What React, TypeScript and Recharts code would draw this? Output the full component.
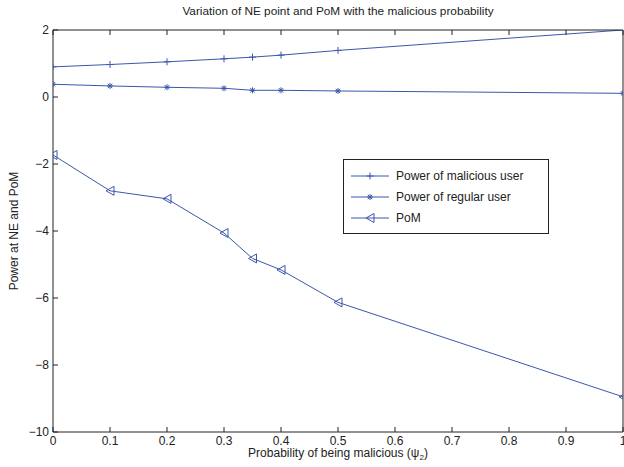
import React from 'react';
import { LineChart, Line, XAxis, YAxis } from 'recharts';

const probability = [0, 0.1, 0.2, 0.3, 0.35, 0.4, 0.5, 1];
const maliciousPower = [0.9, 0.97, 1.05, 1.14, 1.19, 1.25, 1.39, 2.0];
const regularPower = [0.38, 0.33, 0.29, 0.26, 0.2, 0.2, 0.18, 0.11];
const pomValues = [-1.73, -2.8, -3.04, -4.06, -4.82, -5.16, -6.13, -8.95];

const xTicks = [0, 0.1, 0.2, 0.3, 0.4, 0.5, 0.6, 0.7, 0.8, 0.9, 1];
const yTicks = [-10, -8, -6, -4, -2, 0, 2];

const seriesNames = ['Power of malicious user', 'Power of regular user', 'PoM'];
const titleText = 'Variation of NE point and PoM with the malicious probability';
const xLabelText = 'Probability of being malicious (\u03C8';
const yLabelText = 'Power at NE and PoM';

const data = probability.map((p, i) => ({
  p,
  mal: maliciousPower[i],
  reg: regularPower[i],
  pom: pomValues[i],
}));

const BLUE = '#3b57ad';
const FONT = 'Liberation Sans, Arial, Helvetica, sans-serif';
const FS = 12;

const PlusDot = (props: any) => {
  const { cx, cy, index } = props;
  if (cx == null || cy == null) return null;
  const s = 3.5;
  return (
    <g key={'pl' + index}>
      <line x1={cx - s} y1={cy} x2={cx + s} y2={cy} stroke={BLUE} strokeWidth={1} />
      <line x1={cx} y1={cy - s} x2={cx} y2={cy + s} stroke={BLUE} strokeWidth={1} />
    </g>
  );
};

const StarDot = (props: any) => {
  const { cx, cy, index } = props;
  if (cx == null || cy == null) return null;
  const s = 3;
  const d = 2.2;
  return (
    <g key={'st' + index}>
      <line x1={cx - s} y1={cy} x2={cx + s} y2={cy} stroke={BLUE} strokeWidth={1} />
      <line x1={cx} y1={cy - s} x2={cx} y2={cy + s} stroke={BLUE} strokeWidth={1} />
      <line x1={cx - d} y1={cy - d} x2={cx + d} y2={cy + d} stroke={BLUE} strokeWidth={1} />
      <line x1={cx - d} y1={cy + d} x2={cx + d} y2={cy - d} stroke={BLUE} strokeWidth={1} />
    </g>
  );
};

const TriDot = (props: any) => {
  const { cx, cy, index } = props;
  if (cx == null || cy == null) return null;
  const w = 4;
  const h = 4.5;
  return (
    <polygon
      key={'tr' + index}
      points={`${cx - w},${cy} ${cx + w},${cy - h} ${cx + w},${cy + h}`}
      fill="none"
      stroke={BLUE}
      strokeWidth={1}
    />
  );
};

const markerFns = [PlusDot, StarDot, TriDot];

const LegendBox = () => (
  <div
    style={{
      position: 'absolute',
      left: 343,
      top: 159,
      border: '1px solid #222',
      background: '#fff',
      width: 206,
      height: 75,
      boxSizing: 'border-box',
      fontFamily: FONT,
      fontSize: FS,
      color: '#222',
      paddingTop: 5,
    }}
  >
    {seriesNames.map((name, i) => {
      const M = markerFns[i];
      return (
        <div key={name} style={{ display: 'flex', alignItems: 'center', height: 21 }}>
          <svg width={46} height={12} style={{ marginLeft: 5 }}>
            <line x1={2} y1={6} x2={40} y2={6} stroke={BLUE} strokeWidth={1} />
            <M cx={21} cy={6} index={i} />
          </svg>
          <span style={{ marginLeft: 1 }}>{name}</span>
        </div>
      );
    })}
  </div>
);

const fmtY = (v: number) => String(v).replace('-', '\u2212');
const fmtX = (v: number) => String(v);

export default function App() {
  return (
    <div style={{ position: 'absolute', left: 0, top: 0, width: 624, height: 467, background: '#fff', overflow: 'hidden' }}>
      <LineChart
        width={624}
        height={467}
        data={data}
        margin={{ top: 29, right: 0, bottom: 0, left: 0 }}
      >
        <XAxis
          xAxisId="b"
          dataKey="p"
          type="number"
          domain={[0, 1]}
          ticks={xTicks}
          tickFormatter={fmtX}
          orientation="bottom"
          height={35}
          tickSize={-5}
          tickMargin={9}
          axisLine={{ stroke: '#222' }}
          tickLine={{ stroke: '#222' }}
          tick={{ fill: '#222', fontSize: FS, fontFamily: FONT }}
          interval={0}
          allowDataOverflow
        />
        <XAxis
          xAxisId="t"
          dataKey="p"
          type="number"
          domain={[0, 1]}
          ticks={xTicks}
          tickFormatter={() => ''}
          orientation="top"
          height={1}
          tickSize={-5}
          axisLine={{ stroke: '#222' }}
          tickLine={{ stroke: '#222' }}
          interval={0}
        />
        <YAxis
          yAxisId="l"
          type="number"
          domain={[-10, 2]}
          ticks={yTicks}
          tickFormatter={fmtY}
          orientation="left"
          width={53}
          tickSize={-5}
          tickMargin={9}
          axisLine={{ stroke: '#222' }}
          tickLine={{ stroke: '#222' }}
          tick={{ fill: '#222', fontSize: FS, fontFamily: FONT }}
          interval={0}
          allowDataOverflow
        />
        <YAxis
          yAxisId="r"
          type="number"
          domain={[-10, 2]}
          ticks={yTicks}
          tickFormatter={() => ''}
          orientation="right"
          width={1}
          tickSize={-5}
          axisLine={{ stroke: '#222' }}
          tickLine={{ stroke: '#222' }}
          interval={0}
        />
        <Line
          xAxisId="b"
          yAxisId="l"
          dataKey="mal"
          name={seriesNames[0]}
          stroke={BLUE}
          strokeWidth={1}
          dot={PlusDot}
          activeDot={false}
          isAnimationActive={false}
          type="linear"
        />
        <Line
          xAxisId="b"
          yAxisId="l"
          dataKey="reg"
          name={seriesNames[1]}
          stroke={BLUE}
          strokeWidth={1}
          dot={StarDot}
          activeDot={false}
          isAnimationActive={false}
          type="linear"
        />
        <Line
          xAxisId="b"
          yAxisId="l"
          dataKey="pom"
          name={seriesNames[2]}
          stroke={BLUE}
          strokeWidth={1}
          dot={TriDot}
          activeDot={false}
          isAnimationActive={false}
          type="linear"
        />
      </LineChart>
      <LegendBox />
      <div
        style={{
          position: 'absolute',
          left: 53,
          width: 570,
          top: 4,
          textAlign: 'center',
          fontFamily: FONT,
          fontSize: 11.8,
          color: '#222',
          whiteSpace: 'nowrap',
        }}
      >
        {titleText}
      </div>
      <div
        style={{
          position: 'absolute',
          left: 53,
          width: 570,
          top: 446,
          textAlign: 'center',
          fontFamily: FONT,
          fontSize: FS,
          color: '#222',
          whiteSpace: 'nowrap',
          lineHeight: '14px',
        }}
      >
        {xLabelText}
        <sub style={{ fontSize: 8, lineHeight: 0 }}>2</sub>)
      </div>
      <div
        style={{
          position: 'absolute',
          left: 14,
          top: 231,
          transform: 'translate(-50%, -50%) rotate(-90deg)',
          fontFamily: FONT,
          fontSize: FS,
          color: '#222',
          whiteSpace: 'nowrap',
        }}
      >
        {yLabelText}
      </div>
    </div>
  );
}
